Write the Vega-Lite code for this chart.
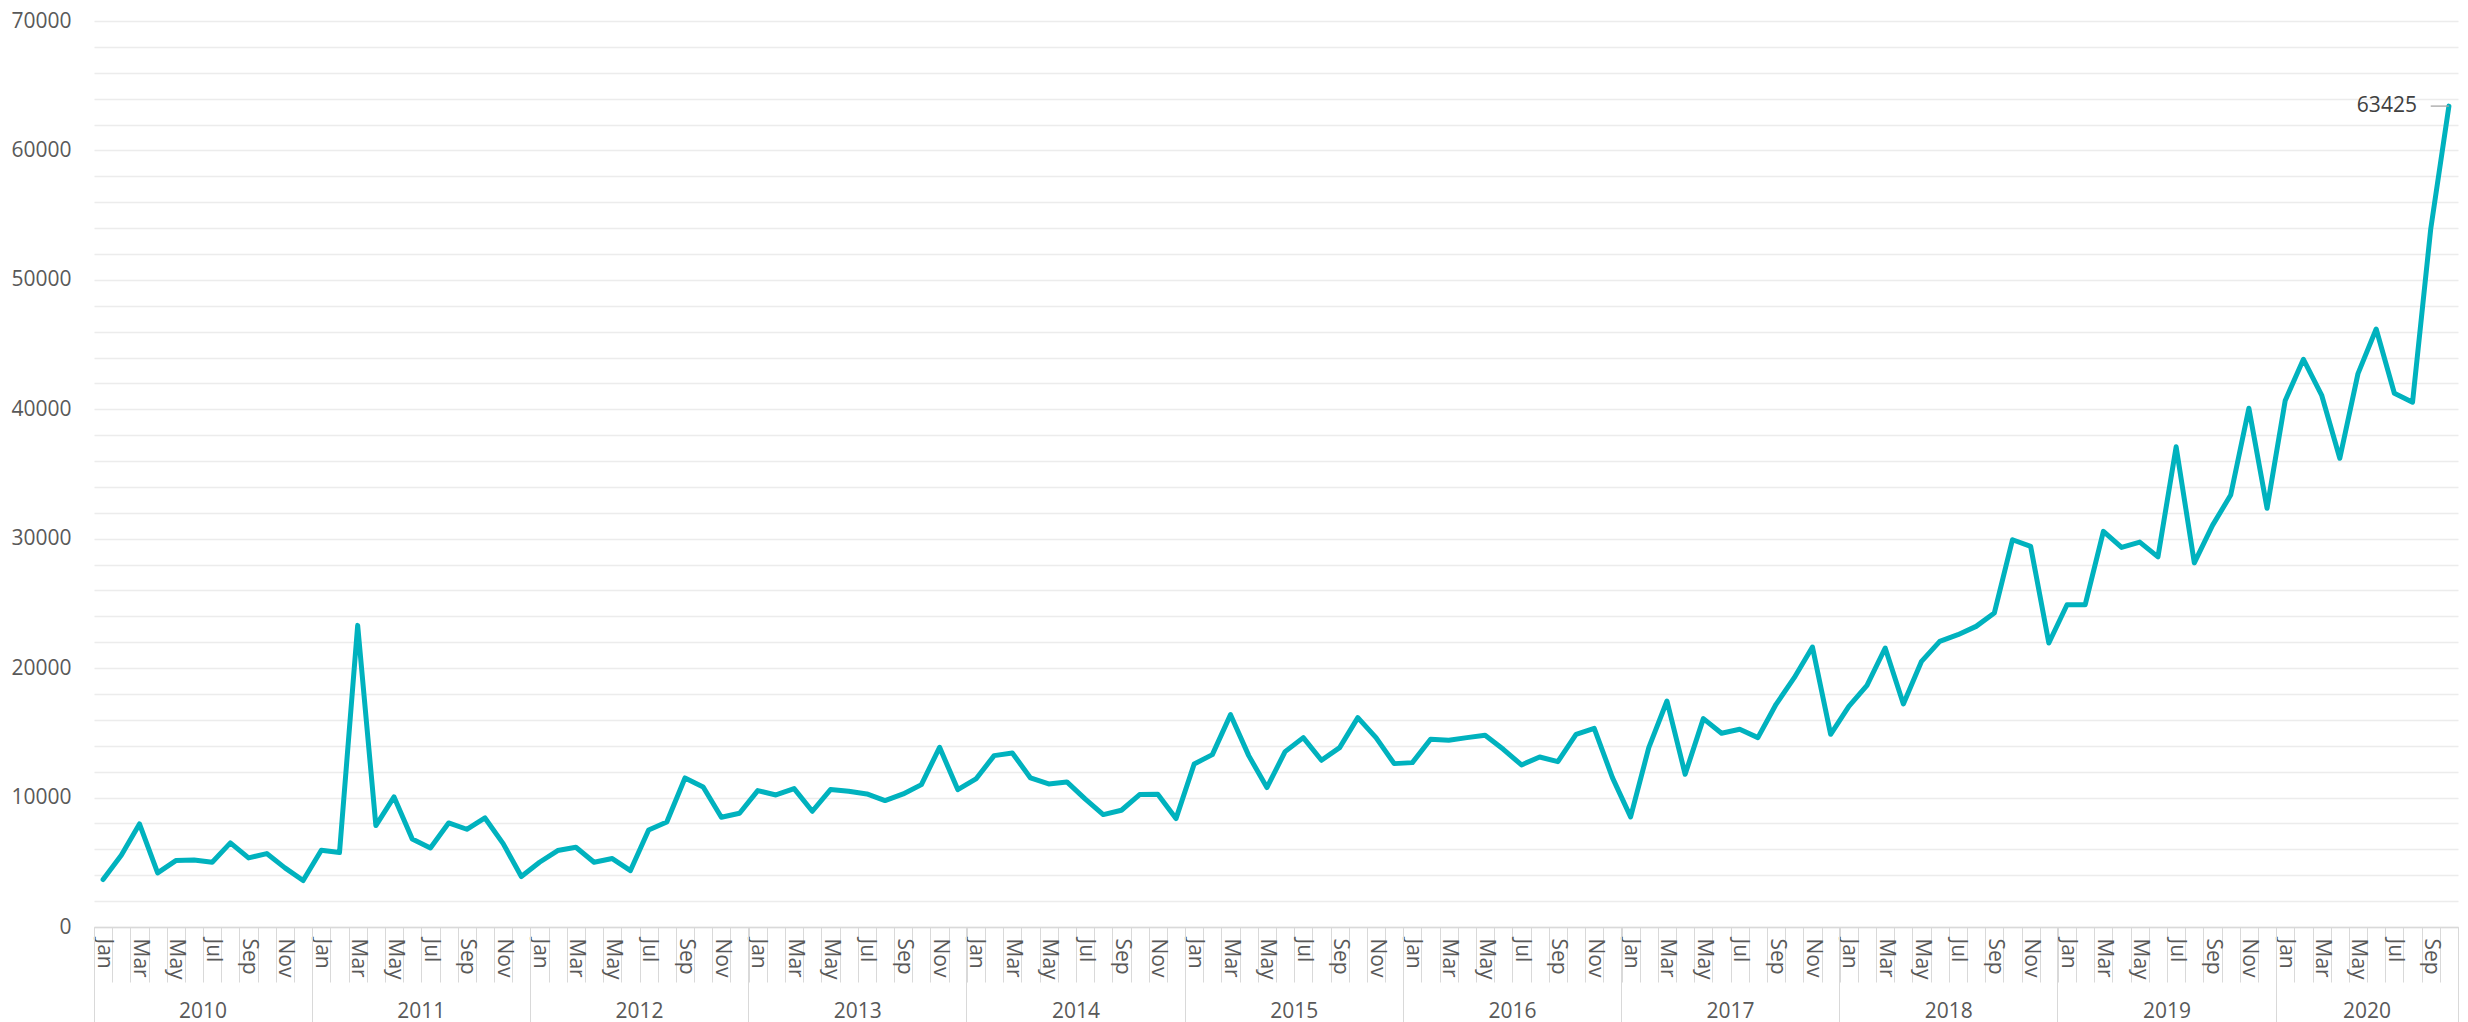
{
  "$schema": "https://vega.github.io/schema/vega-lite/v6.json",
  "width": 2364,
  "height": 906,
  "autosize": {"type": "none"},
  "padding": {"left": 94, "top": 21, "right": 10, "bottom": 95},
  "background": "white",
  "config": {"view": {"stroke": null}, "font": "Open Sans"},
  "data": {
    "values": [
      {"month": "2010-01", "value": 3665}, {"month": "2010-02", "value": 5544}, {"month": "2010-03", "value": 7964}, {"month": "2010-04", "value": 4180},
      {"month": "2010-05", "value": 5133}, {"month": "2010-06", "value": 5180}, {"month": "2010-07", "value": 5004}, {"month": "2010-08", "value": 6497},
      {"month": "2010-09", "value": 5338}, {"month": "2010-10", "value": 5673}, {"month": "2010-11", "value": 4566}, {"month": "2010-12", "value": 3588},
      {"month": "2011-01", "value": 5931}, {"month": "2011-02", "value": 5750}, {"month": "2011-03", "value": 23305}, {"month": "2011-04", "value": 7835},
      {"month": "2011-05", "value": 10049}, {"month": "2011-06", "value": 6806}, {"month": "2011-07", "value": 6111}, {"month": "2011-08", "value": 8041},
      {"month": "2011-09", "value": 7552}, {"month": "2011-10", "value": 8427}, {"month": "2011-11", "value": 6445}, {"month": "2011-12", "value": 3897},
      {"month": "2012-01", "value": 5003}, {"month": "2012-02", "value": 5905}, {"month": "2012-03", "value": 6162}, {"month": "2012-04", "value": 5003},
      {"month": "2012-05", "value": 5287}, {"month": "2012-06", "value": 4361}, {"month": "2012-07", "value": 7501}, {"month": "2012-08", "value": 8118},
      {"month": "2012-09", "value": 11516}, {"month": "2012-10", "value": 10821}, {"month": "2012-11", "value": 8479}, {"month": "2012-12", "value": 8788},
      {"month": "2013-01", "value": 10538}, {"month": "2013-02", "value": 10203}, {"month": "2013-03", "value": 10692}, {"month": "2013-04", "value": 8942},
      {"month": "2013-05", "value": 10615}, {"month": "2013-06", "value": 10486}, {"month": "2013-07", "value": 10280}, {"month": "2013-08", "value": 9766},
      {"month": "2013-09", "value": 10280}, {"month": "2013-10", "value": 11001}, {"month": "2013-11", "value": 13884}, {"month": "2013-12", "value": 10615},
      {"month": "2014-01", "value": 11439}, {"month": "2014-02", "value": 13241}, {"month": "2014-03", "value": 13447}, {"month": "2014-04", "value": 11516},
      {"month": "2014-05", "value": 11053}, {"month": "2014-06", "value": 11207}, {"month": "2014-07", "value": 9894}, {"month": "2014-08", "value": 8685},
      {"month": "2014-09", "value": 9019}, {"month": "2014-10", "value": 10229}, {"month": "2014-11", "value": 10255}, {"month": "2014-12", "value": 8376},
      {"month": "2015-01", "value": 12597}, {"month": "2015-02", "value": 13318}, {"month": "2015-03", "value": 16407}, {"month": "2015-04", "value": 13241},
      {"month": "2015-05", "value": 10770}, {"month": "2015-06", "value": 13550}, {"month": "2015-07", "value": 14631}, {"month": "2015-08", "value": 12880},
      {"month": "2015-09", "value": 13858}, {"month": "2015-10", "value": 16175}, {"month": "2015-11", "value": 14631}, {"month": "2015-12", "value": 12623},
      {"month": "2016-01", "value": 12700}, {"month": "2016-02", "value": 14502}, {"month": "2016-03", "value": 14425}, {"month": "2016-04", "value": 14631},
      {"month": "2016-05", "value": 14811}, {"month": "2016-06", "value": 13730}, {"month": "2016-07", "value": 12520}, {"month": "2016-08", "value": 13138},
      {"month": "2016-09", "value": 12777}, {"month": "2016-10", "value": 14888}, {"month": "2016-11", "value": 15351}, {"month": "2016-12", "value": 11542},
      {"month": "2017-01", "value": 8505}, {"month": "2017-02", "value": 13858}, {"month": "2017-03", "value": 17462}, {"month": "2017-04", "value": 11799},
      {"month": "2017-05", "value": 16098}, {"month": "2017-06", "value": 14965}, {"month": "2017-07", "value": 15274}, {"month": "2017-08", "value": 14631},
      {"month": "2017-09", "value": 17205}, {"month": "2017-10", "value": 19264}, {"month": "2017-11", "value": 21632}, {"month": "2017-12", "value": 14888},
      {"month": "2018-01", "value": 17050}, {"month": "2018-02", "value": 18672}, {"month": "2018-03", "value": 21555}, {"month": "2018-04", "value": 17230},
      {"month": "2018-05", "value": 20525}, {"month": "2018-06", "value": 22070}, {"month": "2018-07", "value": 22584}, {"month": "2018-08", "value": 23228},
      {"month": "2018-09", "value": 24257}, {"month": "2018-10", "value": 29920}, {"month": "2018-11", "value": 29405}, {"month": "2018-12", "value": 21941},
      {"month": "2019-01", "value": 24901}, {"month": "2019-02", "value": 24901}, {"month": "2019-03", "value": 30564}, {"month": "2019-04", "value": 29328},
      {"month": "2019-05", "value": 29740}, {"month": "2019-06", "value": 28600}, {"month": "2019-07", "value": 37100}, {"month": "2019-08", "value": 28133},
      {"month": "2019-09", "value": 31030}, {"month": "2019-10", "value": 33375}, {"month": "2019-11", "value": 40079}, {"month": "2019-12", "value": 32354},
      {"month": "2020-01", "value": 40686}, {"month": "2020-02", "value": 43859}, {"month": "2020-03", "value": 41100}, {"month": "2020-04", "value": 36217},
      {"month": "2020-05", "value": 42756}, {"month": "2020-06", "value": 46204}, {"month": "2020-07", "value": 41238}, {"month": "2020-08", "value": 40548},
      {"month": "2020-09", "value": 53930}, {"month": "2020-10", "value": 63425}
    ]
  },
  "layer": [
    {
      "mark": {"type": "line", "color": "#00B2BE", "strokeWidth": 5, "strokeJoin": "round", "strokeCap": "round"},
      "encoding": {
        "x": {
          "field": "month", "type": "ordinal", "bandPosition": 0.5,
          "scale": {"type": "band", "paddingInner": 0, "paddingOuter": 0},
          "axis": {
            "orient": "bottom", "title": null, "grid": false,
            "domainColor": "#d9d9d9", "domainWidth": 1.3,
            "tickColor": "#d9d9d9", "tickWidth": 1, "tickSize": 55, "tickBand": "extent",
            "labelAngle": 90, "labelAlign": "left", "labelBaseline": "middle", "labelPadding": -44,
            "labelOverlap": false, "labelFont": "Open Sans", "labelFontSize": 21, "labelColor": "#595959",
            "labelExpr": "toNumber(substring(datum.value,5,7)) % 2 == 1 ? ['Jan','Feb','Mar','Apr','May','Jun','Jul','Aug','Sep','Oct','Nov','Dec'][toNumber(substring(datum.value,5,7))-1] : ''"
          }
        },
        "y": {
          "field": "value", "type": "quantitative",
          "scale": {"domain": [0, 70000], "nice": false, "zero": true},
          "axis": {
            "orient": "left", "title": null, "domain": false, "ticks": false, "grid": false,
            "values": [0,10000,20000,30000,40000,50000,60000,70000],
            "format": "d", "labelOverlap": false, "labelBound": false,
            "labelPadding": 23, "labelFont": "Open Sans", "labelFontSize": 21, "labelColor": "#595959"
          }
        }
      }
    },
    {
      "transform": [{"filter": "datum.month == '2020-10'"}],
      "mark": {"type": "text", "align": "right", "baseline": "middle", "dx": -32, "font": "Open Sans", "fontSize": 21, "color": "#404040"},
      "encoding": {
        "x": {
          "field": "month", "type": "ordinal", "bandPosition": 0.5,
          "scale": {"type": "band", "paddingInner": 0, "paddingOuter": 0},
          "axis": {
            "orient": "bottom", "title": null, "grid": false, "domain": false, "ticks": false,
            "values": ["2010-06","2011-06","2012-06","2013-06","2014-06","2015-06","2016-06","2017-06","2018-06","2019-06","2020-05"],
            "labelAngle": 0, "labelAlign": "center", "labelBaseline": "top", "labelPadding": 73, "labelOffset": 9.09,
            "labelOverlap": false, "labelFont": "Open Sans", "labelFontSize": 21, "labelColor": "#595959",
            "labelExpr": "substring(datum.value,0,4)"
          }
        },
        "y": {
          "field": "value", "type": "quantitative",
          "axis": {
            "orient": "left", "title": null, "domain": false, "ticks": false, "labels": false, "grid": true,
            "gridColor": "#ececec", "gridWidth": 1.3,
            "values": [0,2000,4000,6000,8000,10000,12000,14000,16000,18000,20000,22000,24000,26000,28000,30000,32000,34000,36000,38000,40000,42000,44000,46000,48000,50000,52000,54000,56000,58000,60000,62000,64000,66000,68000,70000]
          }
        },
        "text": {"field": "value", "type": "quantitative", "format": "d"}
      }
    },
    {
      "transform": [{"filter": "datum.month == '2020-10'"}],
      "mark": {"type": "rule", "color": "#a6a6a6", "strokeWidth": 1.3},
      "encoding": {
        "x": {
          "field": "month", "type": "ordinal", "bandPosition": 0.5,
          "scale": {"type": "band", "paddingInner": 0, "paddingOuter": 0},
          "axis": {
            "orient": "bottom", "title": null, "grid": false, "domain": false, "labels": false,
            "values": ["2010-01","2011-01","2012-01","2013-01","2014-01","2015-01","2016-01","2017-01","2018-01","2019-01","2020-01"],
            "bandPosition": 0, "tickColor": "#d9d9d9", "tickWidth": 1, "tickSize": 96
          }
        },
        "x2": {"datum": "2020-09", "bandPosition": 0.5},
        "y": {"field": "value", "type": "quantitative", "axis": null}
      }
    },
    {
      "transform": [{"filter": "datum.month == '2020-10'"}],
      "mark": {"type": "point", "opacity": 0},
      "encoding": {
        "x": {
          "field": "month", "type": "ordinal", "bandPosition": 0.5,
          "scale": {"type": "band", "paddingInner": 0, "paddingOuter": 0},
          "axis": {
            "orient": "bottom", "title": null, "grid": false, "domain": false, "labels": false,
            "values": ["2020-10"],
            "bandPosition": 1, "tickColor": "#d9d9d9", "tickWidth": 1, "tickSize": 96
          }
        },
        "y": {"field": "value", "type": "quantitative", "axis": null}
      }
    }
  ],
  "resolve": {"axis": {"x": "independent", "y": "independent"}}
}
